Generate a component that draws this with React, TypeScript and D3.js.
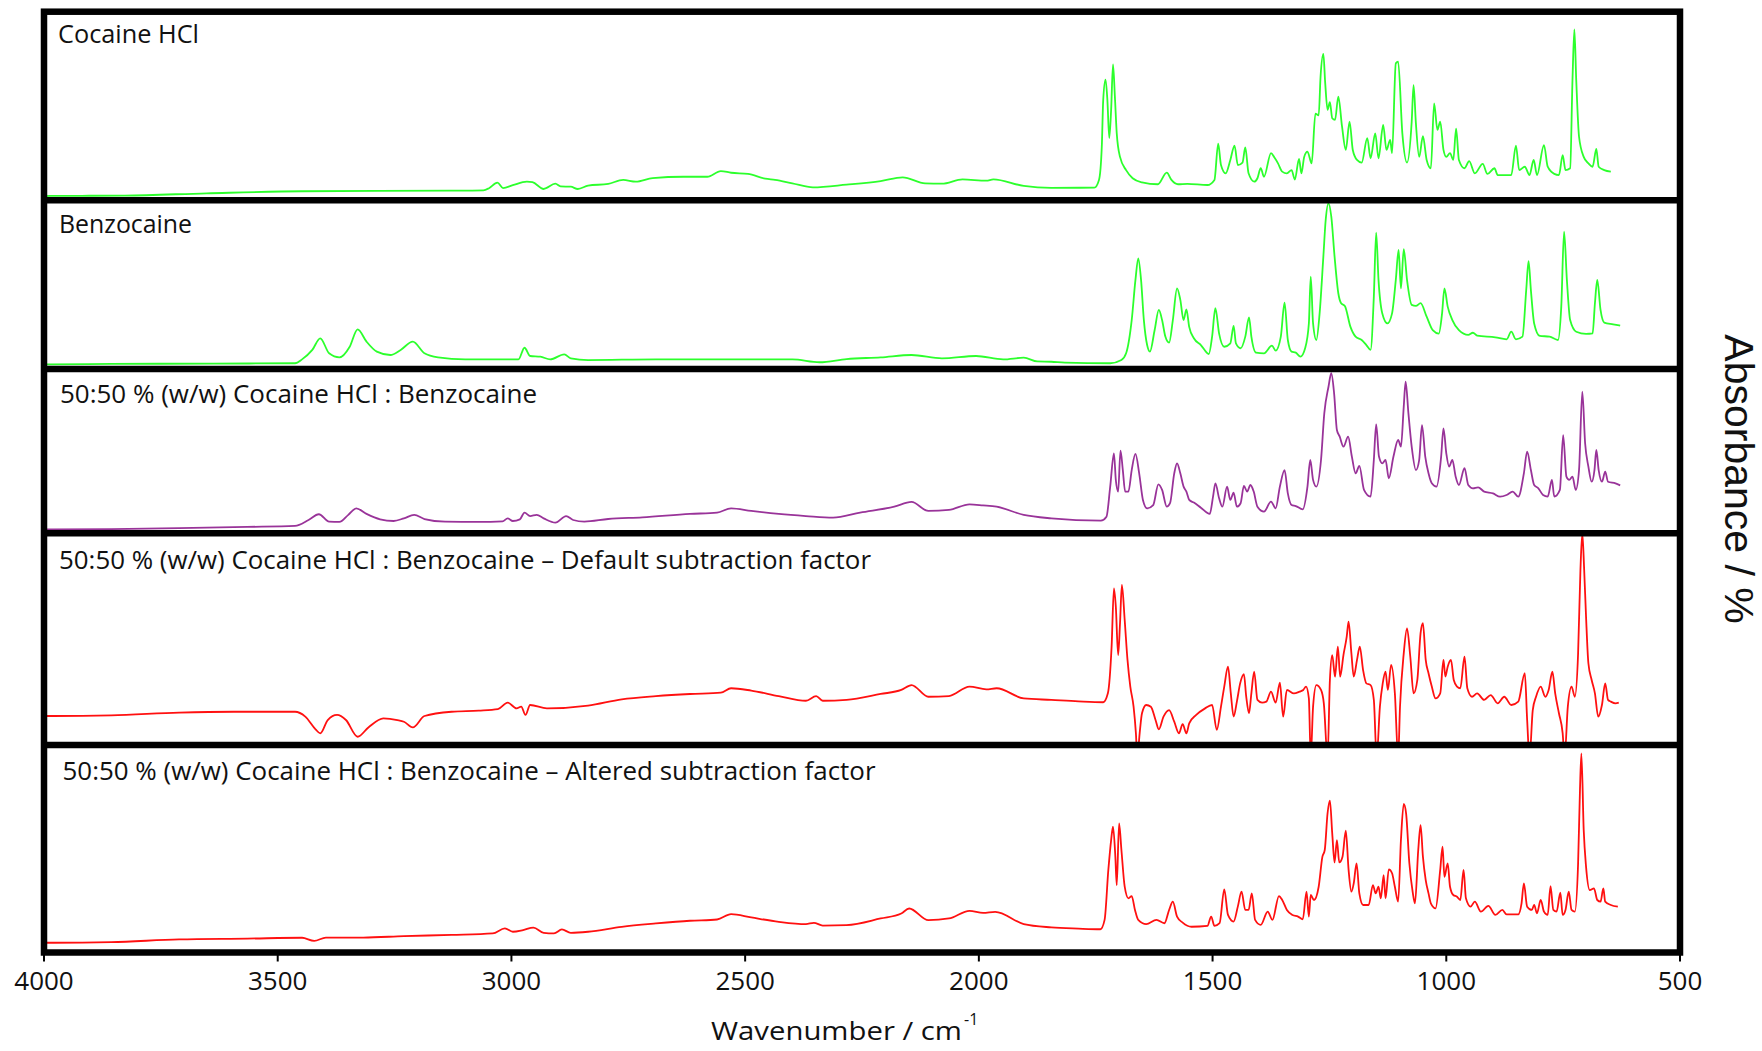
import React from 'react';
import * as d3 from 'd3';

// ---------- DATA (wavenumber / cm-1, absorbance / % of panel) ----------
const xTicks = [4000, 3500, 3000, 2500, 2000, 1500, 1000, 500];

const panelTitles = [
  'Cocaine HCl',
  'Benzocaine',
  '50:50 % (w/w) Cocaine HCl : Benzocaine',
  '50:50 % (w/w) Cocaine HCl : Benzocaine \u2013 Default subtraction factor',
  '50:50 % (w/w) Cocaine HCl : Benzocaine \u2013 Altered subtraction factor',
];

const cocaineHCl: [number, number][] = [
  [3998,2.2],[3987,2.3],[3827,2.5],[3652,3.7],[3448,4.8],[3128,5.1],[3060,5.3],[3048,6.4],[3030,9.4],[3018,6.5],[2997,8],[2967,9.9],[2955,9.6],[2931,6],[2906,8.8],[2895,7.4],[2873,7.2],[2858,6],[2836,7.8],[2793,8.7],[2761,10.8],[2734,9.9],[2698,11.8],[2632,12.5],[2581,12.5],[2552,15.5],[2530,14.6],[2494,14],[2457,11.5],[2436,10.8],[2399,9],[2355,6.9],[2283,8.3],[2210,10.2],[2163,12.2],[2115,9],[2079,8.8],[2035,11.1],[1984,10.4],[1969,11.1],[1904,7.6],[1845,6.6],[1753,6.7],[1743,10.8],[1737,28.4],[1734,53],[1729,64],[1725,53],[1721,33],[1717,48],[1713,72],[1709,55],[1705,35.5],[1698,23],[1685,16],[1671,11.7],[1651,9.5],[1617,8.5],[1598,14.7],[1588,10.8],[1574,8.5],[1554,8.7],[1511,8.1],[1496,10.8],[1488,30],[1482,18.7],[1472,14.3],[1462,21.4],[1453,29],[1446,18.7],[1436,20],[1430,28],[1423,14.3],[1411,9.9],[1404,11.7],[1397,17],[1390,12.5],[1375,25],[1368,22.8],[1360,19.6],[1351,15.2],[1341,14.3],[1331,16],[1324,11],[1315,22],[1310,14.3],[1304,23],[1297,25.8],[1288,19.6],[1280,46],[1273,45],[1269,65.5],[1263,77.6],[1259,62],[1254,48],[1249,52],[1244,43.5],[1238,42.6],[1231,55],[1223,39],[1215,26.7],[1207,41.7],[1200,26.7],[1191,21.4],[1181,20],[1169,33],[1162,22.3],[1152,35.5],[1145,22.3],[1135,40],[1128,26.7],[1120,32],[1116,25],[1108,72.6],[1103,73.5],[1094,35.5],[1084,20],[1074,41.7],[1070,61],[1065,40.8],[1058,23],[1050,34],[1042,21.4],[1033,17],[1026,51.4],[1019,37.3],[1013,41.7],[1006,26.7],[1000,23],[992,25],[985,21.4],[979,38],[973,21.4],[961,17],[951,20.8],[939,14.3],[922,19.3],[912,14],[897,17],[890,13.4],[876,13.4],[861,13.4],[851,29],[844,16],[832,17.8],[822,13.4],[813,21.4],[806,13.4],[791,29.3],[783,17.8],[769,14],[759,13.4],[751,24],[745,16],[735,17],[730,63.8],[726,90.6],[722,63.8],[716,33.7],[706,23],[696,19.6],[687,17.8],[679,27.2],[674,17.8],[662,16],[648,15.2],
];

const benzocaine: [number, number][] = [
  [3998,2.8],[3987,2.8],[3856,3],[3638,3.2],[3463,3.4],[3448,5.7],[3426,11.3],[3409,18.2],[3390,9.3],[3368,6.9],[3346,13.2],[3329,23.5],[3310,16.2],[3288,10.3],[3259,8.3],[3237,11.3],[3211,16.2],[3186,9.3],[3157,6.9],[3099,5.7],[3040,5.7],[2985,5.7],[2972,12.6],[2960,7.7],[2938,7.3],[2917,5.7],[2887,8.7],[2873,6.3],[2836,5.3],[2691,5.7],[2545,5.7],[2399,5.7],[2341,4],[2283,5.9],[2210,6.9],[2144,8.3],[2079,6.3],[2006,7.7],[1948,5.7],[1904,6.7],[1875,4.5],[1845,4.3],[1816,3.8],[1719,3.4],[1695,5.3],[1685,9.3],[1673,29],[1665,52.8],[1659,65.6],[1653,52.8],[1647,29],[1640,14.2],[1634,10.3],[1624,23],[1615,35],[1608,29],[1601,19.2],[1593,15.6],[1585,29],[1576,47.8],[1569,41],[1562,29],[1556,35.4],[1550,25],[1540,18.2],[1525,14.2],[1508,8.9],[1501,19.2],[1494,36],[1486,21],[1475,13.2],[1462,15.2],[1455,25.5],[1450,15.2],[1440,12.3],[1430,19.2],[1422,30.6],[1417,19.2],[1407,9.7],[1390,9.3],[1373,13.8],[1365,10.9],[1354,19.2],[1346,39.3],[1339,17.2],[1331,10.3],[1322,9.7],[1312,7.3],[1302,12.3],[1294,27],[1290,54.7],[1285,27],[1278,17.2],[1271,33],[1263,66.6],[1258,88.3],[1252,98.2],[1246,90.3],[1239,66.6],[1231,44.9],[1225,39],[1217,37.4],[1205,25],[1194,19.2],[1181,17.2],[1171,14.2],[1162,11.3],[1155,42.9],[1150,80.8],[1145,52.8],[1137,33],[1126,27],[1116,33],[1108,52.8],[1102,70.6],[1097,47.8],[1091,71.1],[1084,52.8],[1074,38],[1065,37.4],[1055,39],[1042,31],[1029,23],[1016,21],[1009,33],[1004,47.8],[997,37],[987,29],[973,23],[953,20.2],[943,21.5],[934,19.8],[895,18.8],[871,17.6],[861,22.1],[851,17.6],[837,19.2],[829,46.8],[824,64],[819,46.8],[812,27],[800,19.6],[779,19.2],[761,17.2],[754,37],[748,81.4],[742,52.8],[735,29],[722,22.1],[701,20.8],[687,21.1],[682,39],[677,52.8],[670,35],[662,27.5],[643,26.5],[628,25.7],
];

const mixture5050: [number, number][] = [
  [3998,2.4],[3980,2.4],[3856,2.6],[3711,3.2],[3565,3.9],[3463,4.5],[3434,8.1],[3412,11.6],[3390,7.1],[3368,6.9],[3349,11.2],[3332,15.2],[3310,11.8],[3281,8.5],[3252,7.5],[3230,9.1],[3208,11.2],[3186,8.7],[3142,7.1],[3070,6.9],[3019,7.3],[3008,9.1],[2997,7.5],[2982,8.5],[2972,12.6],[2960,10.5],[2946,11.2],[2931,9.1],[2906,6.5],[2883,10.5],[2868,8.1],[2844,7.1],[2793,8.7],[2720,9.7],[2618,11.8],[2560,12.6],[2530,15.2],[2487,13.6],[2428,11.8],[2370,10.5],[2312,9.5],[2254,12.6],[2181,16.2],[2144,19.1],[2108,13.6],[2064,14.2],[2020,17.6],[1991,17],[1962,16.2],[1904,11.2],[1845,9.1],[1739,7.7],[1727,10.1],[1719,28.4],[1711,48.7],[1707,32.5],[1702,25.4],[1697,50.3],[1692,38.5],[1687,25.4],[1680,25.4],[1673,38.5],[1665,48.3],[1657,36.5],[1649,20.3],[1640,15.2],[1627,17.2],[1616,29.8],[1608,26.4],[1598,16.2],[1591,18.3],[1582,36.5],[1576,42.6],[1569,36.5],[1562,28.4],[1556,25.4],[1550,20.3],[1540,18.7],[1525,15.6],[1506,11.8],[1499,22.3],[1494,30.4],[1486,21.3],[1479,16.2],[1469,28.4],[1462,20.3],[1455,24.7],[1448,16.2],[1440,18.3],[1433,28.8],[1426,25.4],[1419,29.4],[1412,25.4],[1404,16.2],[1390,13.2],[1375,19.3],[1365,15.2],[1356,28.4],[1346,38.5],[1339,24.3],[1331,17.2],[1322,16.6],[1307,14.6],[1297,28.4],[1291,44.6],[1285,32.5],[1278,28.4],[1268,44.6],[1261,73],[1252,89.2],[1246,97.4],[1240,85.2],[1234,62.9],[1228,58.8],[1220,52.7],[1210,58.8],[1202,46.7],[1194,36.5],[1186,41],[1176,26.4],[1162,22.3],[1155,44.6],[1150,66.3],[1144,46.7],[1137,42.6],[1130,44.6],[1123,33.5],[1113,46.7],[1103,56.8],[1097,52.7],[1091,77.1],[1087,92.3],[1081,73],[1074,52.7],[1065,38.5],[1058,44.6],[1052,65.9],[1045,46.7],[1038,36.5],[1031,30.4],[1021,28.4],[1011,46.7],[1006,63.9],[1000,48.7],[994,40.6],[987,44.6],[980,34.5],[973,29.4],[961,39.6],[953,29.4],[943,27.4],[932,28],[919,25.4],[900,24.3],[885,22.3],[871,23.3],[858,25.4],[846,22.3],[834,36.5],[827,49.7],[819,38.5],[812,29.4],[803,27.4],[793,23.3],[783,22.3],[774,32.5],[769,22.3],[757,26.4],[750,59.8],[743,34.5],[737,32.5],[730,34.5],[723,26.4],[716,38.5],[709,86.2],[703,54.8],[696,40.6],[689,31.4],[683,38.5],[679,50.7],[674,38.5],[667,31.4],[660,37.5],[654,31.4],[638,30.4],[628,29.2],
];

const defaultSubtraction: [number, number][] = [
  [3998,13.7],[3980,13.7],[3856,14],[3711,15.3],[3594,15.7],[3463,15.7],[3441,13.4],[3419,7.4],[3409,5.5],[3393,11.8],[3373,14.2],[3354,11.8],[3329,3.9],[3306,8.3],[3274,12.6],[3244,11.8],[3230,11],[3211,8.3],[3186,13.7],[3128,15.7],[3070,16.2],[3029,16.9],[3008,20],[2989,17.3],[2979,18.1],[2970,14.2],[2960,18.9],[2924,17.3],[2836,18.6],[2764,21.6],[2691,23.1],[2618,24.1],[2552,24.7],[2530,26.8],[2487,25.7],[2428,23.1],[2370,20.9],[2348,23.1],[2334,20.9],[2283,21.3],[2210,24.1],[2166,26],[2144,28.3],[2108,22.8],[2064,23.1],[2020,27.6],[1984,26.3],[1962,26.8],[1904,22],[1845,21.3],[1787,20.6],[1734,20.2],[1724,24.4],[1716,46.5],[1711,74],[1707,65.4],[1702,42.5],[1698,57.5],[1694,75.6],[1688,59],[1682,40.2],[1676,27.6],[1669,18.1],[1664,5.5],[1661,-6],[1656,5.5],[1651,15],[1642,18.9],[1632,18.1],[1622,11.8],[1615,7.4],[1605,13.4],[1593,16.5],[1582,11],[1572,5.5],[1564,9.9],[1556,5.5],[1550,10.2],[1535,14.2],[1516,17.3],[1501,18.9],[1491,7.1],[1482,18.1],[1475,27.6],[1467,37],[1461,24.4],[1455,13.4],[1448,20.5],[1441,29.1],[1433,33.5],[1428,22.8],[1422,15],[1417,24.4],[1411,34.6],[1404,21.3],[1394,20],[1385,20.5],[1375,25.2],[1365,20],[1356,29.4],[1349,13.4],[1341,26],[1326,24.4],[1314,25.2],[1306,26],[1300,27.6],[1294,22],[1290,-6],[1285,18.1],[1278,28.3],[1268,26],[1262,19.7],[1254,-6],[1249,30.7],[1244,42.5],[1238,32.3],[1232,46.5],[1227,32.3],[1220,42.5],[1213,51.2],[1209,58.3],[1203,43.3],[1198,32.3],[1191,40.2],[1185,46.5],[1178,35.4],[1171,29.1],[1162,28.3],[1155,21.3],[1149,-6],[1142,18.1],[1136,29.1],[1130,34.6],[1125,26],[1118,37.8],[1110,24.4],[1103,-6],[1099,18.1],[1091,43.3],[1084,55.1],[1077,41.7],[1070,24.4],[1062,30.7],[1055,52.8],[1050,57.5],[1044,40.2],[1038,33.9],[1031,27.6],[1023,22],[1013,24.4],[1006,40.2],[1002,32.3],[997,37],[990,40.2],[984,30.7],[977,27.6],[970,26.8],[961,41.7],[955,26.8],[945,22.8],[934,24.4],[919,21.3],[905,23.6],[890,19.7],[876,22.8],[861,18.9],[846,20.5],[832,33.9],[827,11.8],[822,-6],[815,16.5],[808,22.8],[798,27.6],[788,22.8],[781,26],[773,34.6],[767,24.4],[759,15],[751,5.5],[747,-6],[740,18.1],[732,27.6],[725,22.8],[718,43.3],[713,82.7],[709,100],[705,82.7],[701,60.6],[696,38.6],[689,30.7],[682,24.4],[675,13.4],[667,18.9],[660,29.1],[654,21.3],[648,20.5],[638,19.7],[631,20],
];

const alteredSubtraction: [number, number][] = [
  [3998,4.7],[3980,4.7],[3856,5],[3711,6.3],[3565,6.7],[3448,7.1],[3422,5.6],[3397,7.2],[3317,7.2],[3230,7.9],[3128,8.5],[3040,9.2],[3014,11.6],[2997,10],[2975,10.8],[2953,12],[2931,9.5],[2909,9.2],[2892,11.1],[2873,9.5],[2836,10],[2764,12.4],[2691,14],[2618,15.3],[2560,15.9],[2530,18.5],[2487,16.9],[2428,14.8],[2370,13.7],[2353,14.3],[2334,13],[2283,13.2],[2210,16.4],[2166,18.8],[2149,21.2],[2108,15.6],[2064,16.4],[2020,20.1],[1991,19.1],[1965,19.6],[1904,13.7],[1845,12.1],[1787,11.5],[1740,11.2],[1731,15.7],[1723,39.8],[1717,54.2],[1713,60.6],[1708,46.2],[1705,32.5],[1700,62.2],[1695,49.4],[1688,31.7],[1680,26.1],[1673,27.2],[1666,20.5],[1659,15.7],[1642,13.7],[1620,15.7],[1603,14.1],[1593,20.5],[1585,24.5],[1576,17.3],[1564,14.4],[1545,12.4],[1511,12.8],[1503,17.3],[1496,12.8],[1485,14.1],[1475,30.4],[1467,18.1],[1455,14.9],[1446,22.1],[1438,29.3],[1430,20.5],[1423,20.5],[1416,28.5],[1409,15.7],[1397,13.3],[1382,19.7],[1372,15.7],[1358,27.2],[1351,25.3],[1341,20.5],[1329,18.1],[1317,17.3],[1307,16],[1299,29.3],[1294,17.3],[1290,27.7],[1283,25.3],[1273,31.7],[1265,46.2],[1260,49.4],[1254,67.1],[1249,73.2],[1244,57.4],[1239,43.4],[1234,54.2],[1229,43.4],[1222,46.2],[1215,58.7],[1209,39.8],[1203,29.3],[1198,33.3],[1192,43],[1186,28.5],[1178,22.9],[1166,22.9],[1157,32.5],[1151,28.5],[1145,31.7],[1140,26.1],[1134,37.3],[1130,26.1],[1123,40.1],[1116,38.2],[1110,31.7],[1103,24.5],[1097,54.2],[1091,71.6],[1086,67.1],[1079,43],[1072,29.3],[1067,23.7],[1060,49.4],[1055,61.4],[1050,46.2],[1044,34.9],[1038,28.5],[1033,23.7],[1023,21.3],[1013,39.8],[1008,51],[1004,36.5],[997,43],[992,31.7],[985,27.7],[977,26.9],[970,25.3],[963,39.8],[958,26.1],[948,22.1],[939,24.5],[926,19.7],[910,22.5],[895,18.1],[880,20.5],[871,18.4],[846,18.4],[839,23.7],[834,33.3],[827,22.1],[817,20.5],[812,22.9],[806,18.9],[798,25.3],[791,19.7],[783,18.1],[777,32],[771,20.5],[764,19.7],[756,28.8],[751,18.1],[745,20.5],[738,29.3],[732,20.5],[725,19.7],[718,43],[714,78.3],[711,96],[706,59],[701,41.4],[693,30.1],[684,30.9],[677,25.3],[670,24.5],[664,30.9],[660,24.5],[648,22.9],[633,22.1],
];

const spectra = [cocaineHCl, benzocaine, mixture5050, defaultSubtraction, alteredSubtraction];
const spectrumColors = ['#2cff2c', '#2cff2c', '#993399', '#ff1010', '#ff1010'];

// ---------- LAYOUT ----------
const W = 1762;
const H = 1051;
const panelEdges = [11.7, 200.3, 369, 533.3, 745, 952.5];
const frameLeft = 44;
const frameRight = 1680;
const borderW = 6.5;
const titleLayout = [
  { x: 58, y: 43, len: 141 },
  { x: 59, y: 233, len: 133 },
  { x: 60, y: 403, len: 477 },
  { x: 59, y: 569, len: 812 },
  { x: 62.5, y: 780, len: 813 },
];
const sansFont = "'Open Sans', 'Noto Sans', sans-serif";

export default function App() {
  const x = d3.scaleLinear().domain([4000, 500]).range([frameLeft, frameRight]);

  return (
    <svg
      width={W}
      height={H}
      viewBox={`0 0 ${W} ${H}`}
      style={{ position: 'absolute', left: 0, top: 0, background: '#fff' }}
    >
      <defs>
        {panelEdges.slice(0, 5).map((top, i) => (
          <clipPath id={`clip${i}`} key={i}>
            <rect x={frameLeft} y={top} width={frameRight - frameLeft} height={panelEdges[i + 1] - top} />
          </clipPath>
        ))}
      </defs>
      <rect x={0} y={0} width={W} height={H} fill="#fff" />

      {spectra.map((data, i) => {
        const y = d3.scaleLinear().domain([0, 100]).range([panelEdges[i + 1], panelEdges[i]]);
        const line = d3
          .line<[number, number]>()
          .x((d) => x(d[0]))
          .y((d) => y(d[1]))
          .curve(d3.curveMonotoneX);
        return (
          <path
            key={i}
            d={line(data) || ''}
            fill="none"
            stroke={spectrumColors[i]}
            strokeWidth={1.8}
            strokeLinejoin="round"
            clipPath={`url(#clip${i})`}
          />
        );
      })}

      {/* frame */}
      <rect
        x={frameLeft}
        y={panelEdges[0]}
        width={frameRight - frameLeft}
        height={panelEdges[5] - panelEdges[0]}
        fill="none"
        stroke="#000"
        strokeWidth={borderW}
      />
      {panelEdges.slice(1, 5).map((yy, i) => (
        <line key={i} x1={frameLeft} x2={frameRight} y1={yy} y2={yy} stroke="#000" strokeWidth={borderW} />
      ))}

      {/* x ticks */}
      {xTicks.map((t) => (
        <g key={t}>
          <line x1={x(t)} x2={x(t)} y1={panelEdges[5]} y2={panelEdges[5] + 9} stroke="#000" strokeWidth={2} />
          <text
            x={x(t)}
            y={990}
            textAnchor="middle"
            fontFamily={sansFont}
            fontSize={26}
            fill="#111"
          >
            {t}
          </text>
        </g>
      ))}

      {/* panel titles */}
      {panelTitles.map((t, i) => (
        <text
          key={i}
          x={titleLayout[i].x}
          y={titleLayout[i].y}
          fontFamily={sansFont}
          fontSize={25}
          fill="#111"
          textLength={titleLayout[i].len}
          lengthAdjust="spacingAndGlyphs"
        >
          {t}
        </text>
      ))}

      {/* axis titles */}
      <text
        x={711}
        y={1040}
        fontFamily={sansFont}
        fontSize={26}
        fill="#111"
        textLength={251}
        lengthAdjust="spacingAndGlyphs"
      >
        Wavenumber / cm
      </text>
      <text x={964} y={1025} fontFamily={sansFont} fontSize={16} fill="#111">
        -1
      </text>

      <text
        transform={`translate(1725, 479) rotate(90)`}
        textAnchor="middle"
        fontFamily="'Liberation Sans', Arial, sans-serif"
        fontSize={41}
        fill="#111"
      >
        Absorbance / %
      </text>
    </svg>
  );
}
